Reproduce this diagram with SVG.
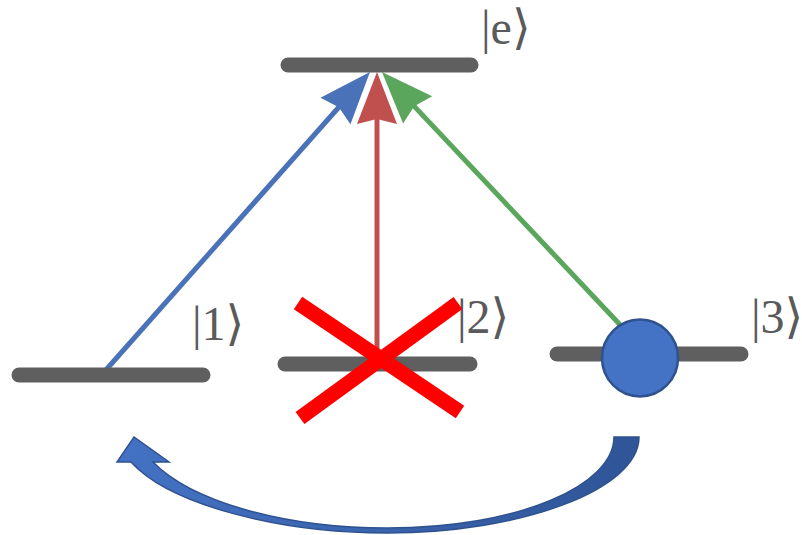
<svg xmlns="http://www.w3.org/2000/svg" width="802" height="535" viewBox="0 0 802 535">
  <style>
    .bar { stroke: #5f5f5f; stroke-width: 15; stroke-linecap: round; fill: none; }
    .lbl { font-family: "Liberation Serif", "DejaVu Serif", serif; font-size: 48px; fill: #5a5a5a; }
    .ln { fill: none; stroke-width: 5; stroke-linecap: butt; }
    .cross { stroke: #ff0000; stroke-width: 15; stroke-linecap: butt; }
  </style>
  <defs>
    <marker id="headBlue" viewBox="-35 -25 60 50" refX="0" refY="0" markerWidth="60" markerHeight="50" markerUnits="userSpaceOnUse" orient="auto">
      <path d="M20,0 L-32,-20 L-27,0 L-32,20 Z" fill="#4a72b8"/>
    </marker>
    <marker id="headRed" viewBox="-35 -25 60 50" refX="0" refY="0" markerWidth="60" markerHeight="50" markerUnits="userSpaceOnUse" orient="auto">
      <path d="M20,0 L-32,-20 L-27,0 L-32,20 Z" fill="#c0504d"/>
    </marker>
    <marker id="headGreen" viewBox="-35 -25 60 50" refX="0" refY="0" markerWidth="60" markerHeight="50" markerUnits="userSpaceOnUse" orient="auto">
      <path d="M20,0 L-32,-20 L-27,0 L-32,20 Z" fill="#5aa65c"/>
    </marker>
    <linearGradient id="curveGrad" x1="0" y1="0" x2="1" y2="0">
      <stop offset="0" stop-color="#4472c4"/>
      <stop offset="1" stop-color="#2f5597"/>
    </linearGradient>
  </defs>

  <g id="connectors">
    <line class="ln" x1="105" y1="371" x2="356.7" y2="87" stroke="#4a72b8" marker-end="url(#headBlue)"/>
    <line class="ln" x1="377" y1="357" x2="377" y2="92" stroke="#c0504d" stroke-width="4.5" marker-end="url(#headRed)"/>
    <line class="ln" x1="625" y1="330" x2="395.7" y2="86.6" stroke="#5aa65c" marker-end="url(#headGreen)"/>
    <path id="transfer" d="M614,437 L639,437 C639,490 520,533 387,533 C280,533 170,505 131,462 L117,462 L134,437 L169,462 L153,462 C190,500 280,528 387,528 C520,528 614,485 614,437 Z" fill="url(#curveGrad)" stroke="#2f528f" stroke-width="1.5" stroke-linejoin="miter"/>
  </g>

  <g id="level-e">
    <line class="bar" x1="288" y1="65" x2="471" y2="65"/>
    <text class="lbl" x="481" y="44">|e⟩</text>
  </g>
  <g id="level-1">
    <line class="bar" x1="19" y1="375" x2="203" y2="375"/>
    <text class="lbl" x="192" y="340">|1⟩</text>
  </g>
  <g id="level-2">
    <line class="bar" x1="285" y1="364" x2="470" y2="364"/>
    <text class="lbl" x="457" y="333">|2⟩</text>
  </g>
  <g id="level-3">
    <line class="bar" x1="557" y1="354" x2="741" y2="354"/>
    <text class="lbl" x="751" y="333">|3⟩</text>
  </g>

  <g id="cross">
    <line class="cross" x1="298" y1="303" x2="460" y2="412"/>
    <line class="cross" x1="458" y1="303" x2="300" y2="418"/>
  </g>

  <g id="population">
    <ellipse cx="640" cy="358" rx="38" ry="38.5" fill="#4472c4" stroke="#2f528f" stroke-width="2.5"/>
  </g>
</svg>
